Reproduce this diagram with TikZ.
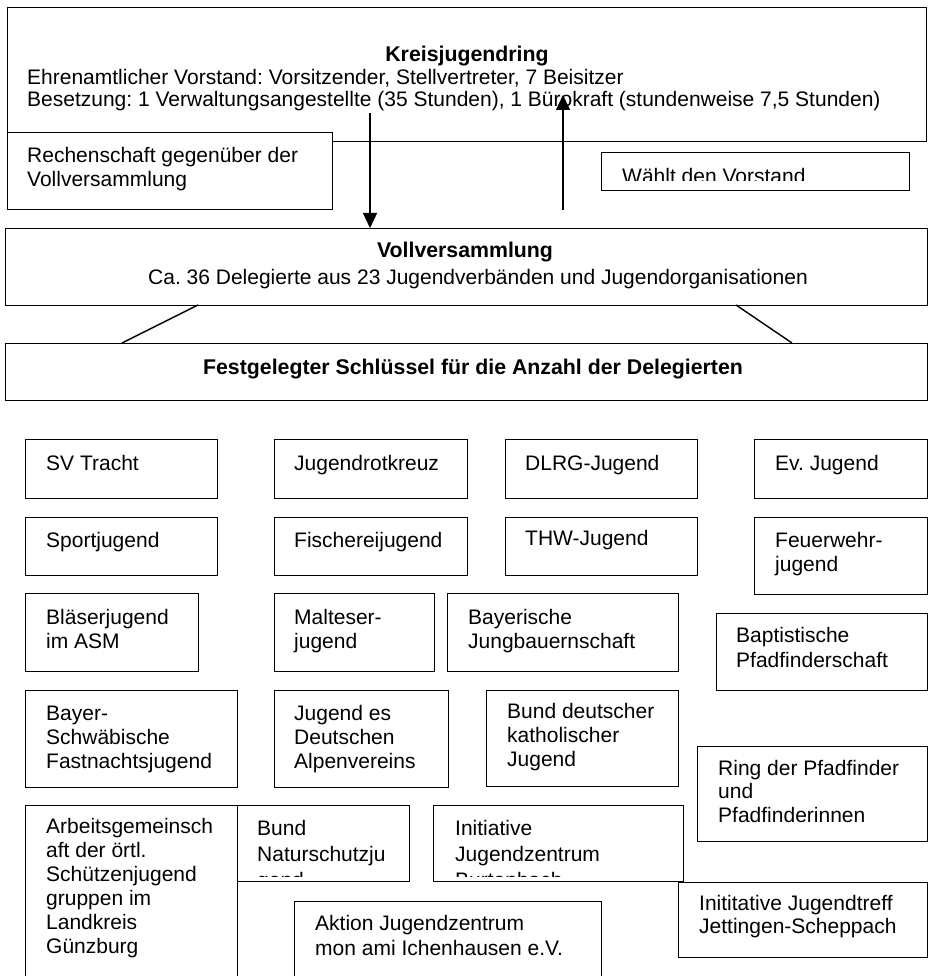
\documentclass[tikz,border=0pt]{standalone}
\usepackage{fontspec}
\setmainfont{Liberation Sans}
\frenchspacing
\usetikzlibrary{arrows.meta}
\tikzset{
  orgbox/.style={
    shape = rectangle,
    draw,
    fill = white,
    line width = 1.4pt,
    inner sep = 0pt,
    anchor = north west
  },
}
\tikzset{
  boxtext/.style={
    anchor = base west,
    inner sep = 0pt,
    align = left,
    font = \fontsize{21}{24}\selectfont
  },
  headtext/.style={
    anchor = base,
    inner sep = 0pt,
    font = \bfseries\fontsize{21.3}{24}\selectfont
  },
  link/.style={
    line width = 1.4pt
  },
  vote/.style={
    line width = 1.4pt,
    -{Triangle[width=14pt,length=15pt]}
  }
}

\begin{document}
\begin{tikzpicture}[x=1pt,y=-1pt]
    \useasboundingbox (0,0) rectangle (929,976);
    \clip (0,0) rectangle (929,976);
    % Kreisjugendring (text nodes sit on their last baseline)
    \node[orgbox, minimum width=919pt, minimum height=134pt] (kjr) at (7,7) {};
    \node[headtext] (kjr-head) at (467,62) {Kreisjugendring};
    \node[boxtext, font=\fontsize{21}{22}\selectfont] (kjr-text) at (27,107) {Ehrenamtlicher Vorstand: Vorsitzender, Stellvertreter, 7 Beisitzer\\Besetzung: 1 Verwaltungsangestellte (35 Stunden), 1 Bürokraft (stundenweise 7,5 Stunden)};
    \node[orgbox, minimum width=325pt, minimum height=77pt] (rech) at (7,132) {};
    \node[boxtext, font=\fontsize{21}{24.5}\selectfont] (rech-text) at (27,187) {Rechenschaft gegenüber der\\Vollversammlung};
    \node[orgbox, minimum width=308pt, minimum height=38pt] (waehlt) at (601,152) {};
    \begin{scope}
      \clip (601,152) rectangle (909,180.5);
      \node[boxtext] (waehlt-text) at (622,183.5) {Wählt den Vorstand};
    \end{scope}
    % Vollversammlung
    \node[orgbox, minimum width=922pt, minimum height=77pt] (voll) at (5,228) {};
    \node[headtext] (voll-head) at (465,258) {Vollversammlung};
    \node[boxtext, anchor=base] (voll-text) at (478,284) {Ca. 36 Delegierte aus 23 Jugendverbänden und Jugendorganisationen};
    \node[orgbox, minimum width=922pt, minimum height=57pt] (fest) at (5,343) {};
    \node[headtext] (fest-head) at (473,374) {Festgelegter Schlüssel für die Anzahl der Delegierten};
    \coordinate (voll-l) at (198,305);
    \coordinate (voll-r) at (736,305);
    \coordinate (fest-l) at (122,343);
    \coordinate (fest-r) at (792,343);
    \draw[link] (voll-l) -- (fest-l);
    \draw[link] (voll-r) -- (fest-r);
    % Jugendverbaende
    \node[orgbox, minimum width=192pt, minimum height=59pt] (svt) at (25,439) {};
    \node[boxtext] (svt-text) at (46,470) {SV Tracht};
    \node[orgbox, minimum width=193pt, minimum height=59pt] (jrk) at (274,439) {};
    \node[boxtext] (jrk-text) at (294,470) {Jugendrotkreuz};
    \node[orgbox, minimum width=192pt, minimum height=59pt] (dlrg) at (505,439) {};
    \node[boxtext] (dlrg-text) at (525,470) {DLRG-Jugend};
    \node[orgbox, minimum width=173pt, minimum height=59pt] (evj) at (754,439) {};
    \node[boxtext] (evj-text) at (775,470) {Ev. Jugend};
    \node[orgbox, minimum width=192pt, minimum height=58pt] (sport) at (25,517) {};
    \node[boxtext] (sport-text) at (46,547) {Sportjugend};
    \node[orgbox, minimum width=193pt, minimum height=58pt] (fisch) at (274,517) {};
    \node[boxtext] (fisch-text) at (294,547) {Fischereijugend};
    \node[orgbox, minimum width=192pt, minimum height=58pt] (thw) at (505,517) {};
    \node[boxtext] (thw-text) at (525,545) {THW-Jugend};
    \node[orgbox, minimum width=173pt, minimum height=77pt] (feuer) at (754,517) {};
    \node[boxtext] (feuer-text) at (775,571) {Feuerwehr-\\jugend};
    \node[orgbox, minimum width=173pt, minimum height=78pt] (blaeser) at (25,593) {};
    \node[boxtext, font=\fontsize{21}{24.5}\selectfont] (blaeser-text) at (46,648.5) {Bläserjugend\\im ASM};
    \node[orgbox, minimum width=160pt, minimum height=78pt] (malt) at (274,593) {};
    \node[boxtext, font=\fontsize{21}{24.5}\selectfont] (malt-text) at (294,648.5) {Malteser-\\jugend};
    \node[orgbox, minimum width=231pt, minimum height=78pt] (jungb) at (447,593) {};
    \node[boxtext, font=\fontsize{21}{24.5}\selectfont] (jungb-text) at (468,648.5) {Bayerische\\Jungbauernschaft};
    \node[orgbox, minimum width=211pt, minimum height=77pt] (bapt) at (716,613) {};
    \node[boxtext, font=\fontsize{21}{25}\selectfont] (bapt-text) at (736,667) {Baptistische\\Pfadfinderschaft};
    \node[orgbox, minimum width=212pt, minimum height=97pt] (fast) at (25,690) {};
    \node[boxtext] (fast-text) at (46,768) {Bayer-\\Schwäbische\\Fastnachtsjugend};
    \node[orgbox, minimum width=174pt, minimum height=97pt] (alpen) at (274,690) {};
    \node[boxtext] (alpen-text) at (294,768) {Jugend es\\Deutschen\\Alpenvereins};
    \node[orgbox, minimum width=192pt, minimum height=96pt] (bdkj) at (486,690) {};
    \node[boxtext] (bdkj-text) at (507,766) {Bund deutscher\\katholischer\\Jugend};
    \node[orgbox, minimum width=230pt, minimum height=95pt] (rdp) at (697,746) {};
    \node[boxtext, font=\fontsize{21}{23.5}\selectfont] (rdp-text) at (718,822) {Ring der Pfadfinder\\und\\Pfadfinderinnen};
    \node[orgbox, minimum width=212pt, minimum height=175pt] (schuetz) at (25,805) {};
    \node[boxtext] (schuetz-text) at (46,953) {Arbeitsgemeinsch\\aft der örtl.\\Schützenjugend\\gruppen im\\Landkreis\\Günzburg};
    \node[orgbox, minimum width=172pt, minimum height=76pt] (bn) at (237,805) {};
    \begin{scope}
      \clip (237,805) rectangle (409,876.5);
      \node[boxtext, font=\fontsize{21}{26.25}\selectfont] (bn-text) at (257,887.5) {Bund\\Naturschutzju\\gend};
    \end{scope}
    \node[orgbox, minimum width=250pt, minimum height=76pt] (ijz) at (433,805) {};
    \begin{scope}
      \clip (433,805) rectangle (683,876.5);
      \node[boxtext, font=\fontsize{21}{26.25}\selectfont] (ijz-text) at (455,887.5) {Initiative\\Jugendzentrum\\Burtenbach};
    \end{scope}
    \node[orgbox, minimum width=249pt, minimum height=75pt] (jett) at (678,882) {};
    \node[boxtext, font=\fontsize{21}{23}\selectfont] (jett-text) at (699,933) {Inititative Jugendtreff\\Jettingen-Scheppach};
    \node[orgbox, minimum width=307pt, minimum height=79pt] (aktion) at (294,901) {};
    \node[boxtext, font=\fontsize{21}{25}\selectfont] (aktion-text) at (315,955) {Aktion Jugendzentrum\\mon ami Ichenhausen e.V.};
    % Pfeile
    \coordinate (bericht) at (370,113);
    \coordinate (wahl) at (563,210);
    \coordinate (vorstand) at (563,95);
    \draw[vote] (bericht) -- (bericht |- voll.north);
    \draw[vote] (wahl) -- (vorstand);
\end{tikzpicture}
\end{document}
